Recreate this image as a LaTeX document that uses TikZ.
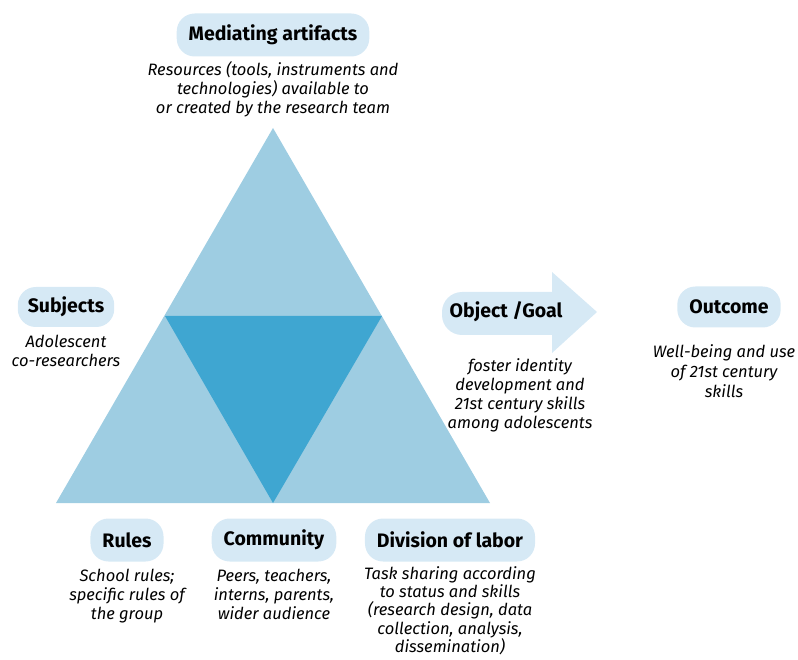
\documentclass[tikz,border=0pt]{standalone}
\usepackage{fontspec}
\setmainfont{Fira Sans}
\usepackage{xcolor}
\usepackage{tikz}
\usetikzlibrary{positioning}
\definecolor{triLight}{HTML}{9ECDE2}
\definecolor{triDark}{HTML}{3FA6D1}
\definecolor{boxBlue}{HTML}{D6E9F5}
\tikzset{ACT style/.style={x=1pt,y=-1pt},
	head/.style={fill=boxBlue,rounded corners=18pt,inner xsep=12pt,minimum height=43pt,font=\fontsize{19.5}{21}\selectfont\bfseries},
	info/.style={anchor=north,inner sep=0pt,align=center,font=\fontsize{16.5}{19}\selectfont\itshape}}

\begin{document}
\begin{tikzpicture}[ACT style]
			\useasboundingbox (0,0) rectangle (798,660);
			
			\fill[triLight] (56,503) -- (273,128) -- (490,503) -- cycle;
			\fill[triDark] (165,316) -- (382,316) -- (273,503) -- cycle;
			
			\fill[boxBlue] (552,272) -- (597,312) -- (552,353) -- (552,335) [rounded corners=20pt] -- (442,335) -- (442,292) [sharp corners] -- (552,292) -- cycle;
			
			\node[head] (mediating) at (273,35) {Mediating artifacts};
			\node[info] (mediatingTxt) at (273,61) {Resources (tools, instruments and\\technologies) available to\\or created by the research team};
			
			\node[head, minimum height=40pt, inner xsep=10pt] (subjects) at (66,307) {Subjects};
			\node[info] (subjectsTxt) at (66,335) {Adolescent\\co-researchers};
			
			\node[font=\fontsize{19.5}{21}\selectfont\bfseries] (goal) at (506,312) {Object /Goal};
			\node[info] (goalTxt) at (520,358) {foster identity\\development and\\21st century skills\\among adolescents};
			
			\node[head, minimum height=41pt] (outcome) at (729,307) {Outcome};
			\node[info, font=\fontsize{16.5}{20}\selectfont\itshape] (outcomeTxt) at (724,344) {Well-being and use\\of 21st century\\skills};
			
			\node[head] (rules) at (127,540) {Rules};
			\node[info] (rulesTxt) at (127,569) {School rules;\\specific rules of\\the group};
			\node[head] (community) at (274,540) {Community};
			\node[info] (communityTxt) at (274,569) {Peers, teachers,\\interns, parents,\\wider audience};
			\node[head] (division) at (450,540) {Division of labor};
			\node[info, font=\fontsize{16.5}{18.4}\selectfont\itshape] (divisionTxt) at (450,566) {Task sharing according\\to status and skills\\(research design, data\\collection, analysis,\\dissemination)};
		\end{tikzpicture}
\end{document}
